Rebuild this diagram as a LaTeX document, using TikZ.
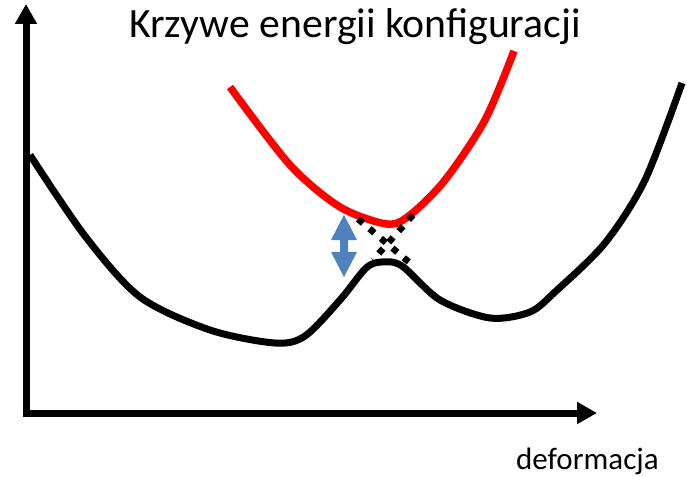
\documentclass[tikz,border=0pt]{standalone}
\usepackage{fontspec}
\setmainfont{Carlito}
\usetikzlibrary{arrows.meta}
\definecolor{arrowblue}{HTML}{4F81BD}
\tikzset{
  axisline/.style={line width=7pt, line join=miter, -{Triangle[length=20pt,width=21pt]}},
  blackcurve/.style={line width=7pt, black, line cap=butt, line join=round},
  redcurve/.style={line width=7.5pt, red, line cap=butt, line join=round},
  dotline/.style={line width=6.5pt, dash pattern=on 6.5pt off 8.5pt},
  titletext/.style={font=\fontsize{41.7}{48}\selectfont, inner sep=0pt},
  labeltext/.style={font=\fontsize{31}{36}\selectfont, inner sep=0pt}
}
\begin{document}
\begin{tikzpicture}[x=1pt,y=-1pt]
\useasboundingbox (0,0) rectangle (687,476);
% axes
\coordinate (ytip) at (26,4);
\coordinate (origin) at (26,413);
\coordinate (xtip) at (597,413);
\draw[axisline] (origin) -- (ytip);
\draw[axisline] (22.5,413) -- (xtip);
% black (ground state) curve
\draw[blackcurve] plot[smooth, tension=0.5] coordinates {
 (30,155) (85,236) (140,297) (210,330) (275,343) (305,336) (340,300)
 (366,268) (382,262) (402,266) (440,300) (490,318) (530,312) (556,291)
 (605,243) (645,180) (682,83)};
% red (excited) curve
\draw[redcurve] plot[smooth, tension=0.5] coordinates {
 (230,87) (290,165) (340,207) (387,224) (410,215) (445,180) (485,120) (514,51)};
% dotted crossing lines
\coordinate (d1a) at (358,219);
\coordinate (d1b) at (410,263);
\coordinate (d2a) at (413,215);
\coordinate (d2b) at (373,260);
\draw[dotline] (d1a) -- (d1b);
\draw[dotline] (d2a) -- (d2b);
% blue double arrow
\fill[arrowblue] (344,215) -- (357,240) -- (348,240) -- (348,252) -- (357,252)
  -- (344,277) -- (331,252) -- (340,252) -- (340,240) -- (331,240) -- cycle;
% texts
\node[titletext, anchor=base] (title) at (355,38) {Krzywe energii konfiguracji};
\node[labeltext, anchor=base west] (xlabel) at (516,469) {deformacja};
\end{tikzpicture}
\end{document}
